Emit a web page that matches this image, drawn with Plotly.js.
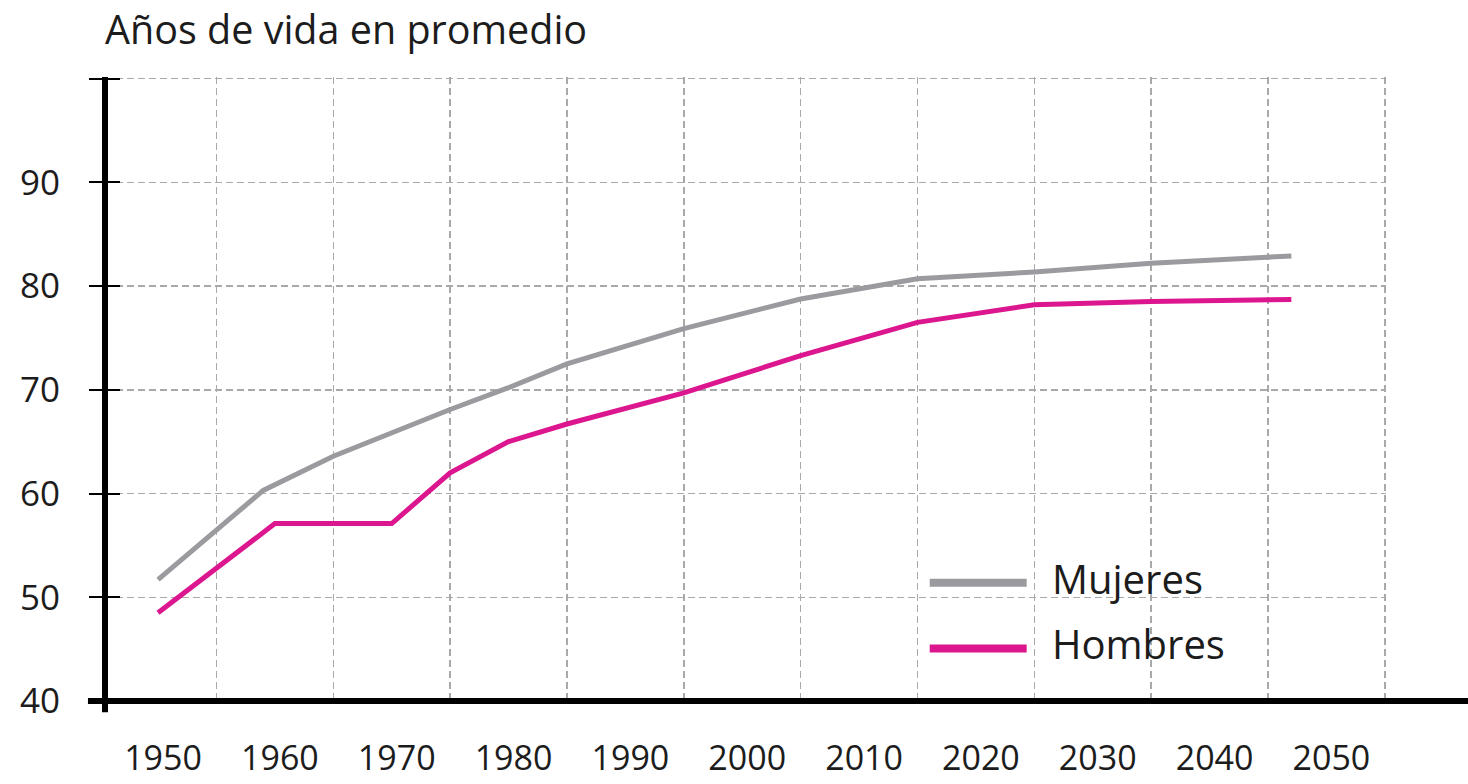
<!DOCTYPE html>
<html>
<head>
<meta charset="utf-8">
<script src="https://cdn.plot.ly/plotly-3.0.1.min.js"></script>
<style>
  html, body { margin: 0; padding: 0; background: #ffffff; }
  #chart { width: 1468px; height: 784px; }
</style>
</head>
<body>
<div id="chart"></div>
<script>
// ---- data ----
const titleText = "Años de vida en promedio";
const seriesNames = ["Mujeres", "Hombres"];
const seriesColors = ["#9b9b9f", "#dc168e"];

const yearsMujeres = [1950, 1959, 1965, 1975, 1980, 1985, 1995, 2005, 2015, 2025, 2035, 2045, 2047];
const mujeres      = [51.7, 60.3, 63.6, 68.1, 70.2, 72.5, 75.9, 78.75, 80.7, 81.35, 82.2, 82.8, 82.9];

const yearsHombres = [1950, 1960, 1970, 1975, 1980, 1985, 1995, 2005, 2015, 2025, 2035, 2045, 2047];
const hombres      = [48.5, 57.1, 57.1, 62.0, 65.0, 66.7, 69.7, 73.3, 76.5, 78.2, 78.5, 78.65, 78.7];

const xTickYears  = [1950, 1960, 1970, 1980, 1990, 2000, 2010, 2020, 2030, 2040, 2050];
const xGridYears  = [1955, 1965, 1975, 1985, 1995, 2005, 2015, 2025, 2035, 2045, 2055];
const yTickVals   = [40, 50, 60, 70, 80, 90, 100];
const yTickText   = ["40", "50", "60", "70", "80", "90", ""];

// ---- chart ----
const FONT = "'Open Sans', 'Noto Sans', sans-serif";
const TEXT = "#1c1c1c";
const GRID = "#a9a9a9";
const DASH = "7px,4px";

const traces = [
  { x: yearsMujeres, y: mujeres, name: seriesNames[0], type: "scatter", mode: "lines",
    line: { color: seriesColors[0], width: 5 }, showlegend: false, hoverinfo: "x+y+name" },
  { x: yearsHombres, y: hombres, name: seriesNames[1], type: "scatter", mode: "lines",
    line: { color: seriesColors[1], width: 5 }, showlegend: false, hoverinfo: "x+y+name" },
  { x: [], y: [], yaxis: "y2", showlegend: false, hoverinfo: "skip" }
];

// legend drawn in paper space (long swatches as in the reference)
const legendX0 = 0.6438, legendX1 = 0.7195, legendTextX = 0.7375;
const legendY = [0.1894, 0.0843];
const legendTextY = [0.197, 0.092];

const shapes = [
  // x axis line, extending beyond plot to the page edge
  { type: "line", xref: "paper", yref: "paper", x0: -0.0133, x1: 1.0648, y0: 0, y1: 0,
    line: { color: "#000000", width: 6 }, layer: "above" },
  // y axis line
  { type: "line", xref: "paper", yref: "paper", x0: 0, x1: 0, y0: -0.018, y1: 1,
    line: { color: "#000000", width: 6 }, layer: "above" }
];
const annotations = [];
seriesNames.forEach(function (nm, i) {
  shapes.push({ type: "line", xref: "paper", yref: "paper",
    x0: legendX0, x1: legendX1, y0: legendY[i], y1: legendY[i],
    line: { color: seriesColors[i], width: 8 } });
  annotations.push({ xref: "paper", yref: "paper", x: legendTextX, y: legendTextY[i],
    xanchor: "left", yanchor: "middle", showarrow: false, text: nm,
    font: { family: FONT, size: 40, color: TEXT } });
});

const layout = {
  width: 1468, height: 784, autosize: false,
  margin: { l: 105, r: 82, t: 77, b: 83, pad: 0 },
  paper_bgcolor: "#ffffff", plot_bgcolor: "#ffffff",
  showlegend: false,
  title: { text: titleText, xref: "paper", x: 0.0, xanchor: "left",
           yref: "container", y: 0.962, yanchor: "middle",
           font: { family: FONT, size: 39.5, color: TEXT } },
  xaxis: {
    range: [1945.46, 2055.1], showline: false, zeroline: false,
    tickmode: "array", tickvals: xTickYears, ticktext: xTickYears.map(String),
    ticks: "", showgrid: false,
    tickfont: { family: FONT, size: 34, color: TEXT },
    ticklabelstandoff: 34, ticklabelshift: 5,
    minor: { tickmode: "array", tickvals: xGridYears, showgrid: true,
             gridcolor: GRID, gridwidth: 1.5, griddash: DASH, ticks: "" },
    fixedrange: true
  },
  yaxis: {
    range: [40, 100.15], showline: false, zeroline: false,
    tickmode: "array", tickvals: yTickVals, ticktext: yTickText,
    ticks: "outside", ticklen: 15, tickwidth: 2, tickcolor: "#000000",
    showgrid: true, gridcolor: GRID, gridwidth: 1.5, griddash: DASH,
    tickfont: { family: FONT, size: 35, color: TEXT },
    ticklabelstandoff: 22,
    fixedrange: true
  },
  yaxis2: {
    overlaying: "y", matches: "y", side: "left", anchor: "x",
    range: [40, 100.15], showline: false, zeroline: false, showgrid: false,
    tickmode: "array", tickvals: yTickVals, showticklabels: false,
    ticks: "inside", ticklen: 15, tickwidth: 2, tickcolor: "#000000",
    fixedrange: true
  },
  shapes: shapes,
  annotations: annotations
};

Plotly.newPlot("chart", traces, layout, { displayModeBar: false, staticPlot: true });
</script>
</body>
</html>
